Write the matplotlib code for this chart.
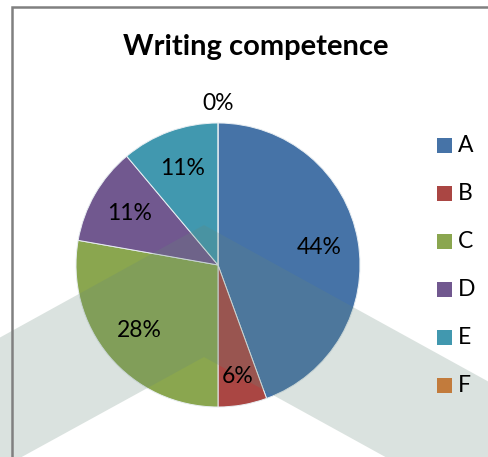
import numpy as np
import matplotlib.pyplot as plt
from matplotlib.patches import Polygon, Rectangle

plt.rcParams["font.family"] = ["Lato", "DejaVu Sans"]

# survey answers counted per category
categories = ["A", "B", "C", "D", "E", "F"]
counts = [8, 1, 5, 2, 2, 0]
colors = ["#4673A7", "#AA4643", "#8AA64F", "#71588F", "#4198AF", "#C27B3C"]
title = "Writing competence"

W, H = 488, 457
fig = plt.figure(figsize=(W / 100, H / 100), dpi=100)


def px(x, y):
    # pixel position (origin top-left) -> figure fraction
    return x / W, 1 - y / H


# chart frame, partly running off the canvas
fig.patches.append(Rectangle((11.5, -20), 500, H - 6.5 + 20, transform=None,
                             fill=False, edgecolor="#808080", linewidth=1.8))

fig.text(*px(256, 47), title, ha="center", va="center",
         fontsize=21, fontweight="bold")

ax = fig.add_axes([76 / W, (H - 407) / H, 284 / W, 284 / H])
wedges, texts, autotexts = ax.pie(
    counts, colors=colors, startangle=90, counterclock=False,
    autopct="%.0f%%", pctdistance=0.72,
    wedgeprops=dict(edgecolor="#e8eef2", linewidth=0.7),
    textprops=dict(fontsize=16.5, color="black"),
)
ax.set_xlim(-1, 1)
ax.set_ylim(-1, 1)
ax.set_aspect("equal")
for t in autotexts:
    t.set_zorder(5)

# the small slices get their labels pushed outward
for i, r in [(1, 0.8), (5, 1.14)]:
    w = wedges[i]
    ang = np.deg2rad((w.theta1 + w.theta2) / 2)
    autotexts[i].set_position((r * np.cos(ang), r * np.sin(ang)))

# translucent chevron band laid across the chart
band = [(-10, 343), (204, 225), (500, 388), (500, 470), (409, 470),
        (204, 357), (-2, 470), (-10, 470)]
band = [(x, H - y) for x, y in band]
ax.add_patch(Polygon(band, closed=True, transform=None, clip_on=False,
                     facecolor=(0.40, 0.53, 0.48), alpha=0.24,
                     edgecolor="none", zorder=3))

# legend column on the right
for i, (name, c) in enumerate(zip(categories, colors)):
    y = 145 + i * 48.
    fig.patches.append(Rectangle((437, H - y - 7.5), 15, 15, transform=None,
                                 facecolor=c, edgecolor="none", zorder=6))
    fig.text(*px(458, y), name, ha="left", va="center", fontsize=16.5, zorder=6)

fig.savefig("out.png", dpi=100)
